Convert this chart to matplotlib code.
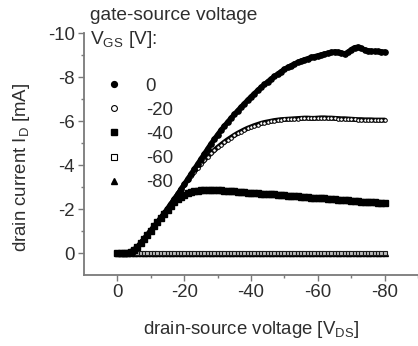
import numpy as np
import matplotlib
matplotlib.use("Agg")
import matplotlib.pyplot as plt

plt.rcParams["font.family"] = ["Liberation Sans", "DejaVu Sans"]
plt.rcParams["mathtext.fontset"] = "custom"
plt.rcParams["mathtext.rm"] = "Liberation Sans"
plt.rcParams["mathtext.it"] = "Liberation Sans:italic"
plt.rcParams["mathtext.default"] = "regular"
plt.rcParams["axes.unicode_minus"] = False

# drain-source sweep, 0 V to -80 V in 1 V steps
vds = np.arange(0, -81, -1)

gate_labels = ["0", "-20", "-40", "-60", "-80"]

# drain current in mA for each gate-source voltage
id_vgs_0 = [
    0.00, 0.00, 0.00, -0.02, -0.06, -0.15, -0.28, -0.45, -0.64, -0.83, -1.02,
    -1.21, -1.40, -1.60, -1.80, -2.01, -2.22, -2.44, -2.66, -2.89, -3.12,
    -3.35, -3.58, -3.81, -4.04, -4.27, -4.50, -4.73, -4.96, -5.17, -5.38,
    -5.58, -5.77, -5.95, -6.13, -6.30, -6.47, -6.63, -6.79, -6.95, -7.10,
    -7.25, -7.39, -7.53, -7.66, -7.79, -7.91, -8.03, -8.14, -8.25, -8.35,
    -8.44, -8.52, -8.60, -8.67, -8.73, -8.79, -8.84, -8.89, -8.93, -8.97,
    -9.01, -9.05, -9.09, -9.12, -9.15, -9.13, -9.10, -9.06, -9.12, -9.25,
    -9.34, -9.36, -9.30, -9.24, -9.20, -9.18, -9.17, -9.16, -9.15, -9.14,
]
id_vgs_m20 = [
    0.00, 0.00, 0.00, -0.02, -0.06, -0.15, -0.28, -0.45, -0.64, -0.83, -1.02,
    -1.21, -1.40, -1.60, -1.80, -2.01, -2.22, -2.44, -2.66, -2.88, -3.10,
    -3.30, -3.50, -3.69, -3.87, -4.05, -4.22, -4.38, -4.53, -4.67, -4.80,
    -4.92, -5.04, -5.15, -5.25, -5.35, -5.44, -5.52, -5.60, -5.67, -5.73,
    -5.79, -5.84, -5.89, -5.93, -5.96, -5.99, -6.02, -6.04, -6.06, -6.07,
    -6.08, -6.09, -6.10, -6.11, -6.12, -6.13, -6.13, -6.12, -6.12, -6.13,
    -6.14, -6.14, -6.13, -6.13, -6.12, -6.11, -6.10, -6.10, -6.09, -6.08,
    -6.07, -6.06, -6.06, -6.05, -6.05, -6.05, -6.04, -6.04, -6.04, -6.04,
]
id_vgs_m40 = [
    0.00, 0.00, 0.00, -0.02, -0.06, -0.15, -0.28, -0.45, -0.64, -0.83, -1.02,
    -1.21, -1.40, -1.60, -1.78, -1.97, -2.15, -2.31, -2.45, -2.56, -2.65,
    -2.71, -2.76, -2.80, -2.83, -2.85, -2.86, -2.87, -2.87, -2.87, -2.86,
    -2.85, -2.84, -2.83, -2.81, -2.80, -2.79, -2.78, -2.77, -2.75, -2.74,
    -2.73, -2.72, -2.70, -2.69, -2.68, -2.67, -2.66, -2.64, -2.63, -2.62,
    -2.61, -2.60, -2.58, -2.57, -2.56, -2.55, -2.54, -2.52, -2.51, -2.50,
    -2.49, -2.48, -2.46, -2.45, -2.44, -2.43, -2.42, -2.40, -2.39, -2.38,
    -2.37, -2.36, -2.34, -2.33, -2.32, -2.31, -2.30, -2.28, -2.27, -2.26,
]
id_vgs_m60 = [
    0.00, 0.00, 0.00, 0.00, 0.00, 0.00, 0.00, 0.00, 0.00, 0.00, 0.00,
    0.00, 0.00, 0.00, 0.00, 0.00, 0.00, 0.00, 0.00, 0.00, 0.00,
    0.00, 0.00, 0.00, 0.00, 0.00, 0.00, 0.00, 0.00, 0.00, 0.00,
    0.00, 0.00, 0.00, 0.00, 0.00, 0.00, 0.00, 0.00, 0.00, 0.00,
    0.00, 0.00, 0.00, 0.00, 0.00, 0.00, 0.00, 0.00, 0.00, 0.00,
    0.00, 0.00, 0.00, 0.00, 0.00, 0.00, 0.00, 0.00, 0.00, 0.00,
    0.00, 0.00, 0.00, 0.00, 0.00, 0.00, 0.00, 0.00, 0.00, 0.00,
    0.00, 0.00, 0.00, 0.00, 0.00, 0.00, 0.00, 0.00, 0.00, 0.00,
]
id_vgs_m80 = [
    0.00, 0.00, 0.00, 0.00, 0.00, 0.00, 0.00, 0.00, 0.00, 0.00, 0.00,
    0.00, 0.00, 0.00, 0.00, 0.00, 0.00, 0.00, 0.00, 0.00, 0.00,
    0.00, 0.00, 0.00, 0.00, 0.00, 0.00, 0.00, 0.00, 0.00, 0.00,
    0.00, 0.00, 0.00, 0.00, 0.00, 0.00, 0.00, 0.00, 0.00, 0.00,
    0.00, 0.00, 0.00, 0.00, 0.00, 0.00, 0.00, 0.00, 0.00, 0.00,
    0.00, 0.00, 0.00, 0.00, 0.00, 0.00, 0.00, 0.00, 0.00, 0.00,
    0.00, 0.00, 0.00, 0.00, 0.00, 0.00, 0.00, 0.00, 0.00, 0.00,
    0.00, 0.00, 0.00, 0.00, 0.00, 0.00, 0.00, 0.00, 0.00, 0.00,
]

x_ticks = [0, -20, -40, -60, -80]
y_ticks = [0, -2, -4, -6, -8, -10]

TEXT = "#2e2e2e"
AXIS = "#7a7a7a"
FS = 13.4

fig = plt.figure(figsize=(4.18, 3.46), dpi=100)
ax = fig.add_axes([84 / 418, 1 - 275 / 346, 334 / 418, 242 / 346])

# (values, marker style, marker size, connecting line width)
series = [
    (id_vgs_m80, dict(marker="^", mfc="black", mec="black"), 3.6, 0),
    (id_vgs_m60, dict(marker="s", mfc="#bdbdbd", mec="#1a1a1a", mew=0.8), 3.0, 0),
    (id_vgs_m40, dict(marker="s", mfc="black", mec="black"), 3.8, 3.4),
    (id_vgs_m20, dict(marker="o", mfc="white", mec="black", mew=0.7), 2.6, 3.6),
    (id_vgs_0, dict(marker="o", mfc="black", mec="black"), 3.8, 3.6),
]
for values, style, ms, lw in series:
    if lw:
        ax.plot(vds, values, color="black", lw=lw, solid_capstyle="round")
    ax.plot(vds, values, linestyle="none", ms=ms, **style)

# legend entries (marker only), listed in gate-voltage order
legend_styles = [
    dict(marker="o", mfc="black", mec="black"),
    dict(marker="o", mfc="white", mec="black", mew=0.8),
    dict(marker="s", mfc="black", mec="black"),
    dict(marker="s", mfc="white", mec="black", mew=0.8),
    dict(marker="^", mfc="black", mec="black"),
]
handles = []
for label, style in zip(gate_labels, legend_styles):
    h, = ax.plot([], [], linestyle="none", ms=4.2, **style)
    h.set_label(label)
    handles.append(h)
leg = ax.legend(handles=handles, loc="upper left", bbox_to_anchor=(0.062, 0.815),
                frameon=False, fontsize=FS, handlelength=1.0, handletextpad=1.2,
                borderpad=0, borderaxespad=0, labelspacing=0.38)
for t in leg.get_texts():
    t.set_color(TEXT)

fig.text(90 / 418, 1 - 15 / 346, "gate-source voltage", fontsize=FS + 0.4, color=TEXT,
         ha="left", va="center")
fig.text(90 / 418, 1 - 39 / 346, "V$_{GS}$ [V]:", fontsize=FS + 0.4, color=TEXT,
         ha="left", va="center")

ax.set_xlim(10, -90)
ax.set_ylim(1, -10)
ax.set_xticks(x_ticks)
ax.set_yticks(y_ticks)
ax.set_xticks([-10, -30, -50, -70, -90], minor=True)
ax.set_yticks([-1, -3, -5, -7, -9], minor=True)

for side in ["top", "right"]:
    ax.spines[side].set_visible(False)
for side in ["left", "bottom"]:
    ax.spines[side].set_color(AXIS)
    ax.spines[side].set_linewidth(1.3)
ax.spines["left"].set_bounds(1, -10)

ax.tick_params(which="major", direction="out", length=4.5, width=1.0, color=AXIS,
               labelsize=FS, labelcolor=TEXT, pad=2)
ax.tick_params(which="minor", direction="out", length=2.5, width=1.0, color=AXIS)

ax.set_xlabel("drain-source voltage [V$_{DS}$]", fontsize=FS, color=TEXT, va="center")
ax.set_ylabel("drain current I$_D$ [mA]", fontsize=FS, color=TEXT, va="center")
ax.xaxis.set_label_coords(0.5, -(330 - 275) / 242)
ax.yaxis.set_label_coords((22 - 84) / 334, 1 - (167 - 33) / 242)

fig.savefig("out.png", dpi=100)
